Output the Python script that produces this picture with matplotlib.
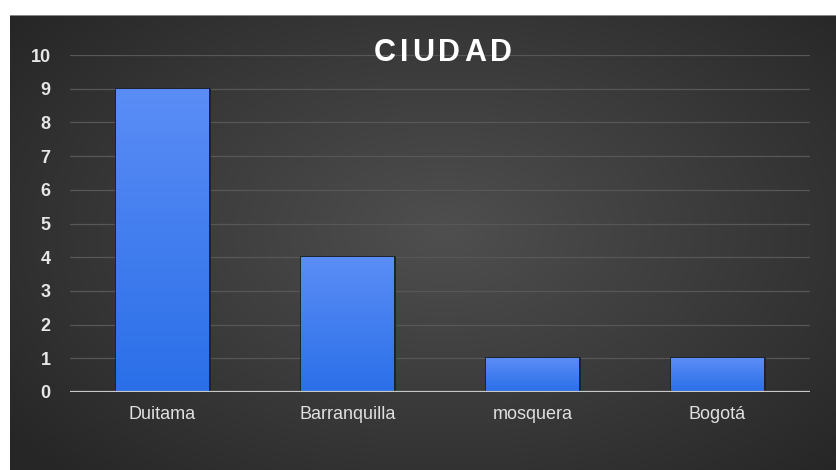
import numpy as np
import matplotlib
matplotlib.use("Agg")
import matplotlib.pyplot as plt
from matplotlib.colors import LinearSegmentedColormap

# data
cities = ["Duitama", "Barranquilla", "mosquera", "Bogotá"]
counts = [9, 4, 1, 1]
y_ticks = list(range(0, 11))
title = "CIUDAD"

plt.rcParams["font.family"] = ["Liberation Sans", "DejaVu Sans"]

fig = plt.figure(figsize=(8.36, 4.70), dpi=100, facecolor="white")

# dark panel with radial gradient
bg = fig.add_axes([10 / 836, 0, 826 / 836, 455 / 470])
bg.set_axis_off()
gy, gx = np.mgrid[-1:1:300j, -1:1:500j]
gx = gx - 0.05
gy = gy + 0.05
r = np.sqrt(gx ** 2 + (gy * 0.9) ** 2)
bg_cmap = LinearSegmentedColormap.from_list("bg", ["#4f4f4f", "#3b3b3b", "#262626"])
bg.imshow(r, cmap=bg_cmap, vmin=0, vmax=1.35, aspect="auto", extent=[0, 1, 0, 1])
bg.set_xlim(0, 1)
bg.set_ylim(0, 1)
bg.plot([0, 1], [1, 1], color="#9a9a9a", lw=1.2, transform=bg.transAxes)

# main plot area
ax = fig.add_axes([70 / 836, 78 / 470, 740 / 836, 337 / 470])
ax.patch.set_alpha(0)
x = np.arange(len(cities))
bars = ax.bar(x, counts, width=0.5, color="#3f7ef0", zorder=3,
              edgecolor="#1a2230", linewidth=2.0)

bar_cmap = LinearSegmentedColormap.from_list("bar", ["#2a6fe8", "#5b8df6"])
grad = np.linspace(0, 1, 256).reshape(-1, 1)
for bar in bars:
    x0, w, h = bar.get_x(), bar.get_width(), bar.get_height()
    im = ax.imshow(grad, cmap=bar_cmap, origin="lower", aspect="auto",
                   extent=[x0, x0 + w, 0, h], zorder=4)
    im.set_clip_path(bar)

ax.set_xlim(-0.5, len(cities) - 0.5)
ax.set_ylim(0, 10)
ax.set_yticks(y_ticks)
ax.set_yticklabels([str(t) for t in y_ticks], fontsize=13, fontweight="bold",
                   color="#e6e6e6")
ax.set_xticks(x)
ax.set_xticklabels(cities, fontsize=13, color="#e0e0e0")
ax.tick_params(length=0)
ax.tick_params(axis="y", pad=14)
ax.tick_params(axis="x", pad=10)
for t in y_ticks[1:]:
    ax.axhline(t, color="#575757", lw=0.9, zorder=1)
ax.axhline(0, color="#c8c8c8", lw=1.6, zorder=5)
for s in ax.spines.values():
    s.set_visible(False)

# title with letter spacing
fig.canvas.draw()
renderer = fig.canvas.get_renderer()
spacing = 4.0
widths = []
letters = []
for ch in title:
    t = fig.text(0, 0, ch, fontsize=22, fontweight="bold", color="white")
    widths.append(t.get_window_extent(renderer).width)
    letters.append(t)
total = sum(widths) + spacing * (len(title) - 1)
cx = 443
pos = cx - total / 2
for t, w in zip(letters, widths):
    t.set_position((pos / 836, 1 - 53 / 470))
    t.set_va("center")
    pos += w + spacing

fig.savefig("out.png", dpi=100, facecolor="white")
